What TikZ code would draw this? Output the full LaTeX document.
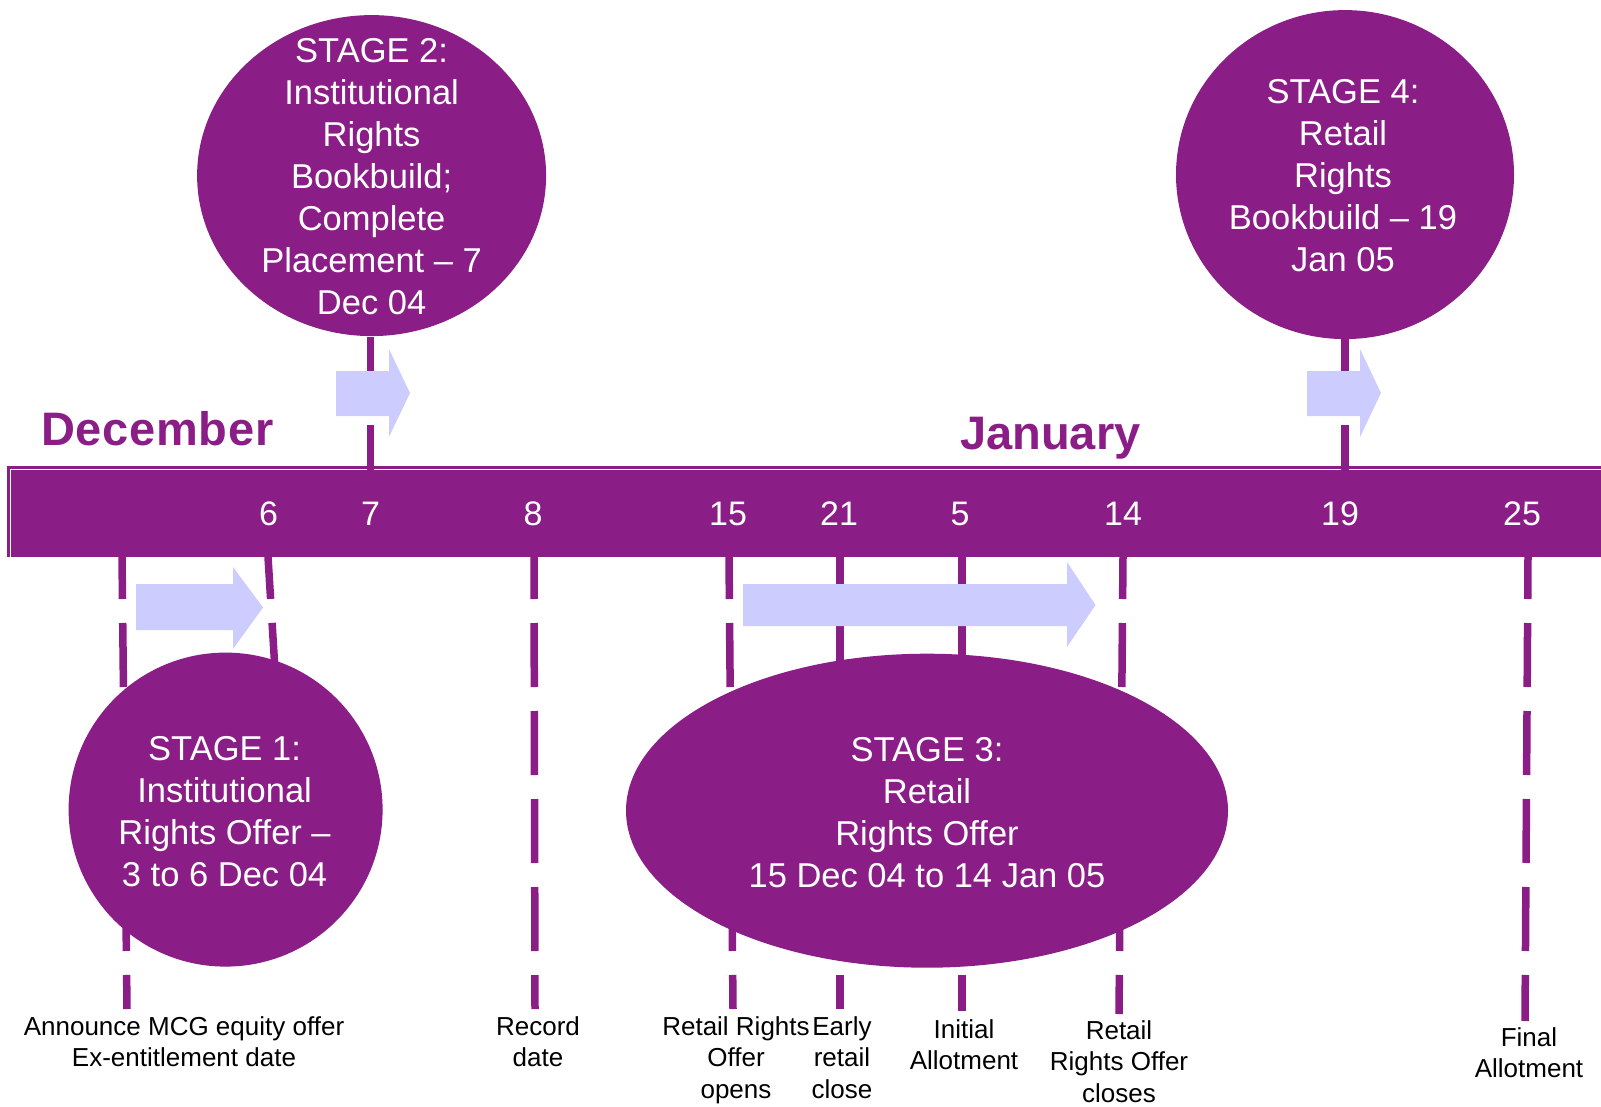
\documentclass[tikz,border=0pt]{standalone}
\usepackage{fontspec}
\setmainfont{Liberation Sans}
\usetikzlibrary{shapes.geometric}
\definecolor{purp}{RGB}{139,29,135}
\definecolor{lav}{RGB}{204,204,255}
\begin{document}
\begin{tikzpicture}[x=1pt,y=-1pt,
  tick/.style={draw=purp, line width=7.5pt, dash pattern=on 64pt off 24pt, dash phase=22pt},
  uptick/.style={draw=purp, line width=7.5pt, dash pattern=on 64pt off 24pt, dash phase=17pt},
  stage/.style={ellipse, fill=purp, draw=none, inner sep=0pt},
  stxt/.style={text=white, align=center, inner sep=0pt, font=\fontsize{34.5}{42}\selectfont},
  day/.style={text=white, inner sep=0pt, font=\fontsize{34}{40}\selectfont},
  month/.style={text=purp, inner sep=0pt, anchor=base west, font=\bfseries\fontsize{47}{56}\selectfont},
  lbl/.style={inner sep=0pt, anchor=north, align=center, font=\fontsize{26}{31.5}\selectfont},
  fatarrow/.style={fill=lav, draw=none}]
\useasboundingbox (0,0) rectangle (1601,1107);
\clip (0,0) rectangle (1601,1107);
% bar
\fill[purp] (7,466) rectangle (1610,557);
\draw[white, line width=1.3pt] (10.5,560) -- (10.5,469.8) -- (1610,469.8);
% month labels
\node[month] (dec) at (41,445) {\addfontfeatures{LetterSpace=1.5}December};
\node[month] (jan) at (960,449) {January};
% day numbers
\node[day] (d6) at (268.5,513.5) {6};
\node[day] (d7) at (370.6,513.5) {7};
\node[day] (d8) at (533,513.5) {8};
\node[day] (d15) at (728,513.5) {15};
\node[day] (d21) at (839,513.5) {21};
\node[day] (d5) at (960,513.5) {5};
\node[day] (d14) at (1123,513.5) {14};
\node[day] (d19) at (1340,513.5) {19};
\node[day] (d25) at (1522,513.5) {25};
% bottom labels
\node[lbl] (la) at (184,1016) {Announce MCG equity offer\\Ex-entitlement date};
\node[lbl] (lr) at (538,1016) {Record\\date};
\node[lbl] (lo) at (736,1016) {Retail Rights\\Offer\\opens};
\node[lbl] (le) at (842,1016) {Early\\retail\\close};
\node[lbl] (li) at (964,1019) {Initial\\Allotment};
\node[lbl] (lc) at (1119,1020) {Retail\\Rights Offer\\closes};
\node[lbl] (lf) at (1529,1027) {Final\\Allotment};
% tick coordinates
\coordinate (ta) at (122,557);  \coordinate (ba) at (127,1009);
\coordinate (tx) at (268,557);  \coordinate (bx) at (275,670);
\coordinate (tr) at (534,557);  \coordinate (br) at (535,1009);
\coordinate (to) at (729,557);  \coordinate (bo) at (733,1009);
\coordinate (te) at (840,557);  \coordinate (be) at (840,1009);
\coordinate (ti) at (962,557);  \coordinate (bi) at (962,1011);
\coordinate (tc) at (1123,557); \coordinate (bc) at (1119,1014);
\coordinate (tf) at (1528,557); \coordinate (bf) at (1525,1021);
\coordinate (u7a) at (370.6,472); \coordinate (u7b) at (370.6,330);
\coordinate (u19a) at (1345,472); \coordinate (u19b) at (1345,330);
\draw[tick] (ta) -- (ba);
\draw[tick] (tx) -- (bx);
\draw[tick] (tr) -- (br);
\draw[tick] (to) -- (bo);
\draw[tick] (te) -- (be);
\draw[tick] (ti) -- (bi);
\draw[tick] (tc) -- (bc);
\draw[tick] (tf) -- (bf);
\draw[uptick] (u7a) -- (u7b);
\draw[uptick] (u19a) -- (u19b);
% arrows
\fill[fatarrow] (336,371) -- (389,371) -- (389,349) -- (410,393) -- (389,437) -- (389,416) -- (336,416) -- cycle;
\fill[fatarrow] (1307,371) -- (1360,371) -- (1360,349) -- (1381,393) -- (1360,437) -- (1360,416) -- (1307,416) -- cycle;
\fill[fatarrow] (136,584) -- (233,584) -- (233,567) -- (263,607.5) -- (233,649) -- (233,630) -- (136,630) -- cycle;
\fill[fatarrow] (743,584) -- (1067,584) -- (1067,562) -- (1095.5,605) -- (1067,647) -- (1067,626) -- (743,626) -- cycle;
% stages
\node[stage, minimum width=314pt, minimum height=314pt] (s1) at (225.6,809.6) {};
\node[stage, minimum width=349pt, minimum height=321pt] (s2) at (371.6,175.6) {};
\node[stage, minimum width=602pt, minimum height=314pt] (s3) at (927,810.7) {};
\node[stage, minimum width=338pt, minimum height=329pt] (s4) at (1345,174.6) {};
\node[stxt] (s1t) at (224.6,812) {STAGE 1:\\Institutional\\Rights Offer --\\3 to 6 Dec 04};
\node[stxt] (s2t) at (371.6,176.5) {STAGE 2:\\Institutional\\Rights\\Bookbuild;\\Complete\\Placement -- 7\\Dec 04};
\node[stxt] (s3t) at (927,812.5) {STAGE 3:\\Retail\\Rights Offer\\15 Dec 04 to 14 Jan 05};
\node[stxt] (s4t) at (1343,176) {STAGE 4:\\Retail\\Rights\\Bookbuild -- 19\\Jan 05};
\end{tikzpicture}
\end{document}
